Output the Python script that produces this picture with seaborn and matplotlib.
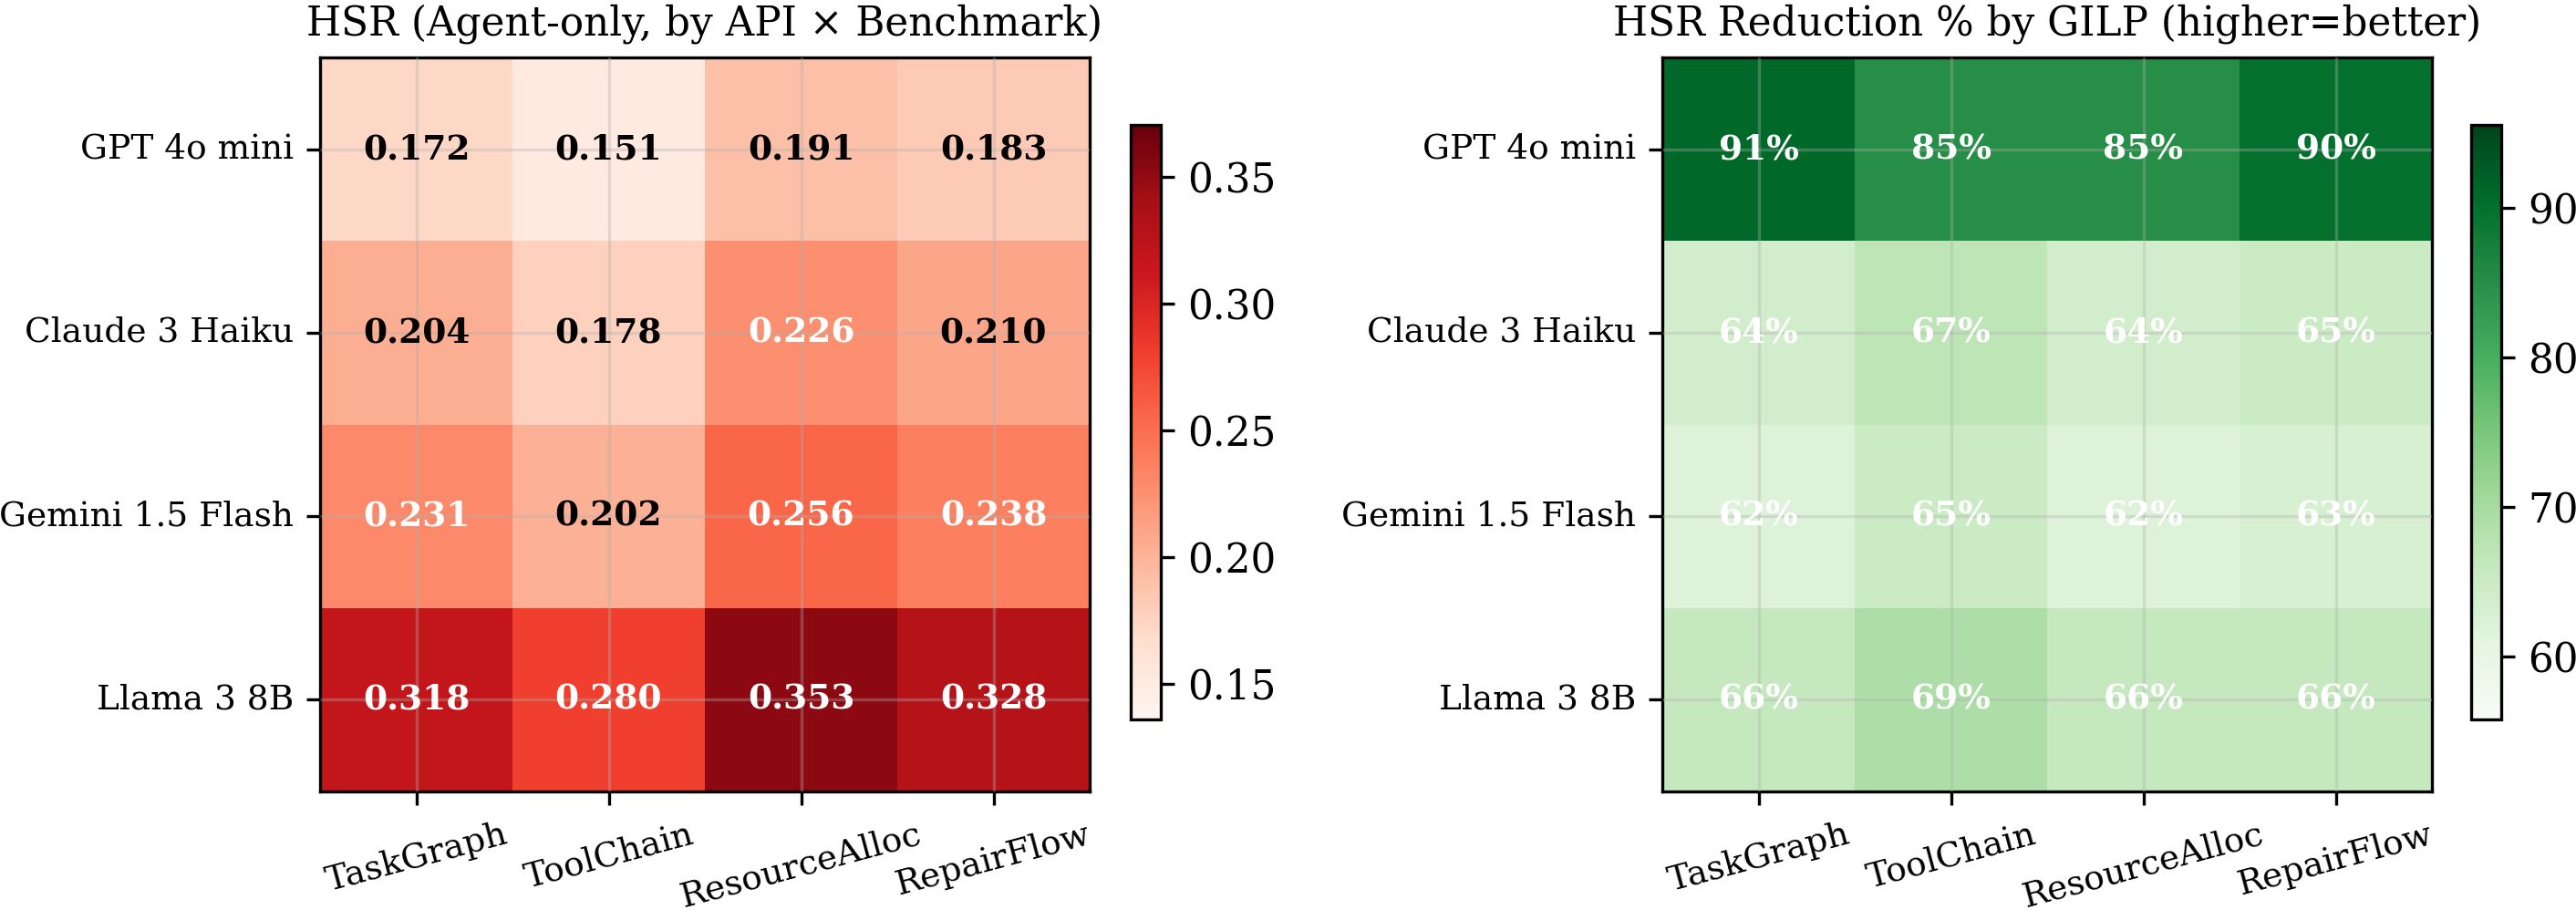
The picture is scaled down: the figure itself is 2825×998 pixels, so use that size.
import numpy as np
import pandas as pd
import seaborn as sns
import matplotlib.pyplot as plt

# values
apis = ["GPT 4o mini", "Claude 3 Haiku", "Gemini 1.5 Flash", "Llama 3 8B"]
benchmarks = ["TaskGraph", "ToolChain", "ResourceAlloc", "RepairFlow"]

hsr_gpt = [0.172, 0.151, 0.191, 0.183]
hsr_claude = [0.204, 0.178, 0.226, 0.210]
hsr_gemini = [0.231, 0.202, 0.256, 0.238]
hsr_llama = [0.318, 0.280, 0.353, 0.328]

red_gpt = [91, 85, 85, 90]
red_claude = [64, 67, 64, 65]
red_gemini = [62, 65, 62, 63]
red_llama = [66, 69, 66, 66]

hsr = pd.DataFrame([hsr_gpt, hsr_claude, hsr_gemini, hsr_llama], index=apis, columns=benchmarks)
red = pd.DataFrame([red_gpt, red_claude, red_gemini, red_llama], index=apis, columns=benchmarks)

plt.rcParams["font.family"] = ["DejaVu Serif"]
plt.rcParams["font.size"] = 9

W, H = 2825, 998
fig = plt.figure(figsize=(W / 300, H / 300), dpi=300)


def px_axes(x0, y0, x1, y1):
    return fig.add_axes([x0 / W, 1 - y1 / H, (x1 - x0) / W, (y1 - y0) / H])


ax1 = px_axes(351, 63, 1195, 868)
cax1 = px_axes(1240, 137, 1273, 789)
ax2 = px_axes(1823, 63, 2667, 868)
cax2 = px_axes(2710, 137, 2743, 789)


def draw(ax, cax, df, cmap, labels, title, text_color):
    vals = df.values
    sns.heatmap(df, ax=ax, cbar_ax=cax, cmap=cmap, annot=labels, fmt="",
                vmin=vals.min() * 0.9, vmax=vals.max() * 1.05,
                annot_kws={"fontsize": 9, "fontweight": "bold"})
    for t, v in zip(ax.texts, vals.ravel()):
        t.set_color(text_color(v))
    for s in ax.spines.values():
        s.set_visible(True)
        s.set_linewidth(0.8)
        s.set_color("black")
    ax.grid(True, color="#b0b0b0", alpha=0.35, linewidth=0.8)
    ax.set_axisbelow(False)
    ax.set_title(title, fontsize=10.5)
    ax.set_xlabel("")
    ax.set_ylabel("")
    ax.tick_params(axis="both", length=3.5, width=0.8, labelsize=9)
    plt.setp(ax.get_xticklabels(), rotation=15, ha="center")
    plt.setp(ax.get_yticklabels(), rotation=0)
    cax.tick_params(labelsize=10.5, length=3.5, width=0.8)
    cb = ax.collections[0].colorbar
    cb.outline.set_linewidth(0.8)
    cb.outline.set_edgecolor("black")


hsr_labels = hsr.map(lambda v: f"{v:.3f}").values
med = np.median(hsr.values)
draw(ax1, cax1, hsr, "Reds", hsr_labels, "HSR (Agent-only, by API \u00d7 Benchmark)",
     lambda v: "white" if v > med else "black")

red_labels = red.map(lambda v: f"{v:.0f}%").values
draw(ax2, cax2, red, "Greens", red_labels, "HSR Reduction % by GILP (higher=better)",
     lambda v: "white")

fig.savefig("out.png", dpi=300)
